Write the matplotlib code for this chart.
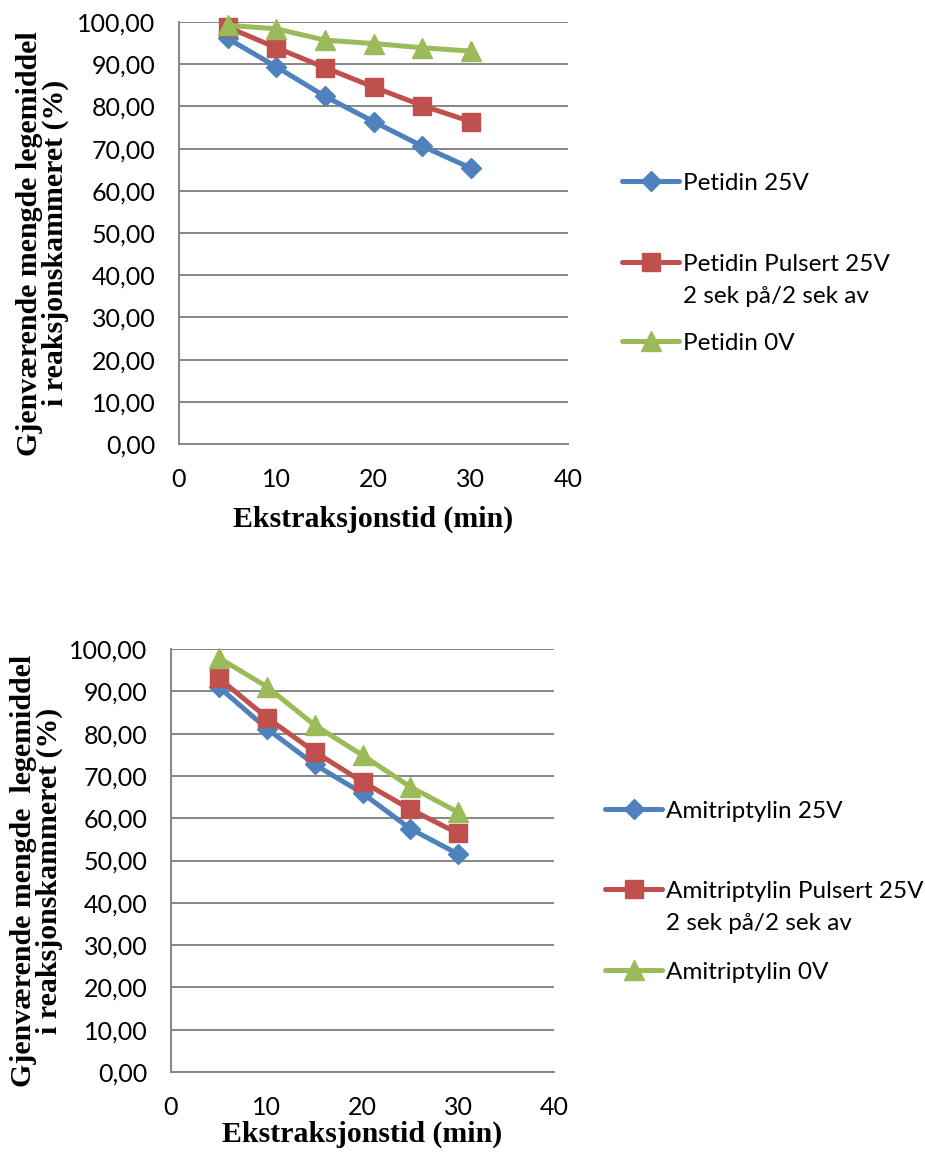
import matplotlib
matplotlib.use("Agg")
import matplotlib.pyplot as plt
from matplotlib.ticker import FuncFormatter

# ---- data ----
time_min = [5, 10, 15, 20, 25, 30]

petidin_25v = [96.1, 89.4, 82.4, 76.4, 70.6, 65.4]
petidin_puls = [98.8, 93.9, 89.2, 84.6, 80.2, 76.4]
petidin_0v = [99.2, 98.4, 95.7, 94.9, 93.9, 93.1]

amitr_25v = [91.0, 81.2, 72.7, 65.9, 57.5, 51.5]
amitr_puls = [93.1, 83.8, 75.7, 68.6, 62.1, 56.4]
amitr_0v = [97.9, 91.1, 82.0, 74.9, 67.4, 61.4]

labels_top = ["Petidin 25V", "Petidin Pulsert 25V", "Petidin 0V"]
labels_bot = ["Amitriptylin 25V", "Amitriptylin Pulsert 25V", "Amitriptylin 0V"]
pulse_note = "2 sek på/2 sek av"

ylabel_top = "Gjenværende mengde legemiddel\ni reaksjonskammeret (%)"
ylabel_bot = "Gjenværende mengde  legemiddel\ni reaksjonskammeret (%)"
xlabel = "Ekstraksjonstid (min)"

x_ticks = [0, 10, 20, 30, 40]
y_ticks = list(range(0, 101, 10))

colors = ["#4F81BD", "#C0504D", "#9BBB59"]
markers = ["D", "s", "^"]
msizes = [10, 13.5, 14]

W, H = 925, 1162
fig = plt.figure(figsize=(W / 100, H / 100), dpi=100)

tick_font = "Lato"
tick_size = 18
leg_size = 17.5
label_font = "Liberation Serif"
label_size = 21.5


def setup(ax, series, labels, ylabel, xlab_y, leg_x, leg_rows, note_y):
    lines = []
    for vals, c, m, ms, lab in zip(series, colors, markers, msizes, labels):
        ln, = ax.plot(time_min, vals, color=c, marker=m, markersize=ms, lw=3.6,
                      label=lab, solid_capstyle="round", clip_on=False, zorder=3)
        lines.append(ln)
    ax.set_xlim(0, 40)
    ax.set_ylim(0, 100)
    ax.set_xticks(x_ticks)
    ax.set_yticks(y_ticks)
    ax.yaxis.set_major_formatter(FuncFormatter(lambda v, p: f"{v:.2f}".replace(".", ",")))
    ax.grid(axis="y", color="#868686", lw=1.4)
    ax.set_axisbelow(True)
    for s in ["top", "right"]:
        ax.spines[s].set_visible(False)
    for s in ["left", "bottom"]:
        ax.spines[s].set_color("#868686")
        ax.spines[s].set_linewidth(1.4)
    ax.tick_params(length=0, labelsize=tick_size)
    ax.tick_params(axis="y", pad=17)
    ax.tick_params(axis="x", pad=17)
    for t in ax.get_xticklabels() + ax.get_yticklabels():
        t.set_fontfamily(tick_font)
    ax.set_xlabel(xlabel, fontsize=label_size, fontweight="bold", fontfamily=label_font,
                  va="center")
    ax.xaxis.set_label_coords(0.5, xlab_y)
    ax.set_ylabel(ylabel, fontsize=label_size, fontweight="bold", fontfamily=label_font,
                  linespacing=0.95, va="center")
    ax.yaxis.set_label_coords(-0.351, 0.476)

    legs = []
    for ln, lab, ypx in zip(lines, labels, leg_rows):
        leg = ax.legend([ln], [lab], loc="center left",
                        bbox_to_anchor=(leg_x / W, 1 - ypx / H),
                        bbox_transform=fig.transFigure, frameon=False,
                        prop={"family": tick_font, "size": leg_size},
                        handlelength=2.35, handletextpad=0.15,
                        borderpad=0, borderaxespad=0)
        legs.append(leg)
    for leg in legs[:-1]:
        ax.add_artist(leg)
    # second line of the pulsed-series legend label
    fig.text((leg_x + 61) / W, 1 - note_y / H, pulse_note, ha="left", va="center",
             family=tick_font, size=leg_size)


ax1 = fig.add_axes([179 / W, 1 - 444 / H, (568 - 179) / W, (444 - 22) / H])
setup(ax1, [petidin_25v, petidin_puls, petidin_0v], labels_top, ylabel_top,
      -0.178, 622, [183, 264, 343], 297)

ax2 = fig.add_axes([171 / W, 1 - 1072 / H, (554 - 171) / W, (1072 - 649) / H])
setup(ax2, [amitr_25v, amitr_puls, amitr_0v], labels_bot, ylabel_bot,
      -0.147, 605, [811, 891, 972], 924)

fig.savefig("out.png", dpi=100)
